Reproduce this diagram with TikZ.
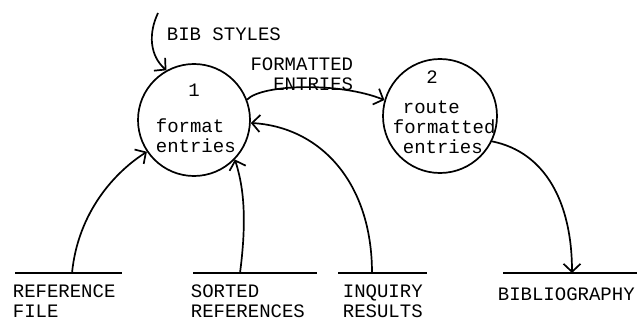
\documentclass[tikz,border=0pt]{standalone}
\usepackage{fontspec}
\setmonofont{Liberation Mono}
\usepackage{tikz}
\usetikzlibrary{arrows.meta}
\usetikzlibrary{positioning}
\tikzstyle{process}=[circle,draw=black,inner sep=0mm,minimum size=112pt]
\tikzstyle{flowtext}=[inner sep=0pt,align=left,font=\ttfamily\fontsize{19}{20}\selectfont]
\tikzstyle{arrow}=[->,>={Straight Barb[length=8pt,width=17pt]}]
\tikzset{every picture/.style={
    line width=1.7pt
  }
}

\begin{document}
\begin{tikzpicture}[x=1pt,y=1pt]
    \useasboundingbox (0,0) rectangle (637,322);
    \node[process] at (194,202) (format) {};
    \node[process,minimum size=114pt] at (440,206) (route) {};
    \node[flowtext,anchor=north] at (194,239) (formatnum) {1};
    \node[flowtext,anchor=north west] at (155,204) (formatname) {format\\entries};
    \node[flowtext,anchor=north] at (432,252) (routenum) {2};
    \node[flowtext,anchor=north west] at (392,222) (routename) {\hspace{10pt}route\\formatted\\\hspace{10pt}entries};
    \coordinate (refL) at (15,49);
    \coordinate (refR) at (122,49);
    \coordinate (refout) at (72,49);
    \coordinate (sortL) at (193,49);
    \coordinate (sortR) at (317,49);
    \coordinate (sortout) at (240,49);
    \coordinate (inqL) at (338,49);
    \coordinate (inqR) at (427,49);
    \coordinate (inqout) at (372,49);
    \coordinate (bibL) at (503,49);
    \coordinate (bibR) at (637,49);
    \coordinate (bibin) at (572,49);
    \coordinate (styles) at (158,309);
    \draw (refL) -- (refR);
    \draw (sortL) -- (sortR);
    \draw (inqL) -- (inqR);
    \draw (bibL) -- (bibR);
    \node[flowtext,anchor=north west] at (12,38) (reffile) {REFERENCE\\FILE};
    \node[flowtext,anchor=north west] at (190,38) (sorted) {SORTED\\REFERENCES};
    \node[flowtext,anchor=north west] at (342,38) (inquiry) {INQUIRY\\RESULTS};
    \node[flowtext,anchor=north west] at (497,35) (biblio) {BIBLIOGRAPHY};
    \node[flowtext,anchor=north west] at (166,295) (stylestext) {BIB STYLES};
    \node[flowtext,anchor=north east,align=right] at (354,265) (formatted) {FORMATTED\\ENTRIES};
    \draw[arrow] (styles) .. controls (148,288) and (150,266) .. (format.119);
    \draw[arrow] (format.21) .. controls (262,238) and (340,240) .. (route.164);
    \draw[arrow] (refout) .. controls (78,110) and (115,150) .. (format.214);
    \draw[arrow] (sortout) .. controls (248,110) and (242,140) .. (format.-44);
    \draw[arrow] (inqout) .. controls (372,140) and (320,195) .. (format.-3);
    \draw[arrow] (route.-26) .. controls (545,170) and (572,120) .. (bibin);
  \end{tikzpicture}
\end{document}
